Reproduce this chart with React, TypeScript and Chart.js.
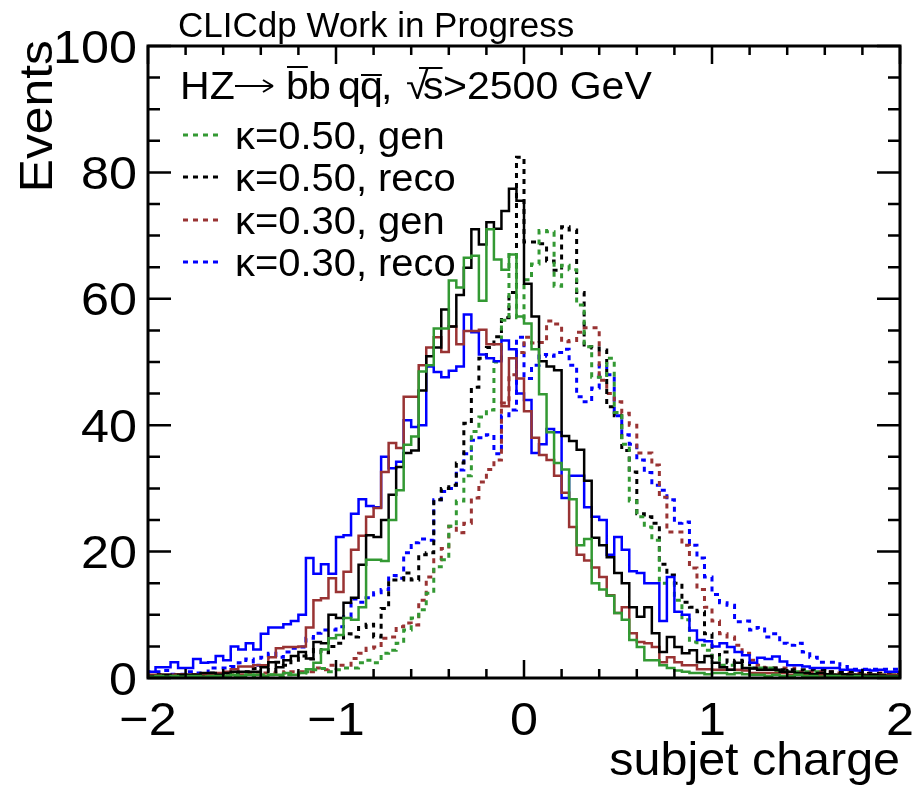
import { useEffect, useRef } from 'react';
import { Chart, registerables } from 'chart.js';

Chart.register(...registerables);

const X_MIN = -2;
const X_MAX = 2;
const BIN_WIDTH = 0.04;
const xTickValues = [-2, -1, 0, 1, 2];
const yTickValues = [0, 20, 40, 60, 80, 100];

// solid histograms (not in legend)
const greenSolid = [
  0.2, 0.2, 0.3, 0.2, 0.3, 0.2, 0.3, 0.3, 0.2, 0.3, 0.3, 0.3, 0.5, 0.3, 0.5, 0.5, 0.3, 0.5, 0.5, 0.8,
  0.5, 0.8, 1.4, 2.4, 4.5, 6.3, 6.8, 9.5, 9.2, 11.2, 18.7, 18.7, 18.5, 25, 29.7, 36.9, 38.2, 48.5, 49.5, 55.3,
  55.3, 62.9, 61.8, 66.5, 66.8, 59.7, 71, 66.2, 64.6, 67, 57.2, 56.1, 52, 44.9, 38.9, 34, 33, 28.3, 21, 22,
  15, 14, 13, 10.3, 9.2, 6, 4.9, 2.8, 2.8, 2, 1.6, 1.2, 1, 0.8, 0.8, 0.6, 0.8, 0.8, 0.6, 0.8,
  0.6, 0.5, 0.5, 0.3, 0.5, 0.3, 0.3, 0.5, 0.3, 0.3, 0.2, 0.3, 0.3, 0.2, 0.2, 0.3, 0.2, 0.2, 0.2, 0.2,
];
const blackSolid = [
  0.2, 0.3, 0.3, 0.5, 0.3, 0.5, 0.5, 0.5, 0.8, 0.8, 0.5, 0.8, 1, 1, 1, 1, 1.7, 2.5, 1.7, 2.8,
  3.5, 4.1, 3.1, 5.7, 5.5, 10, 9.5, 11.9, 12.7, 17.9, 22.6, 22.3, 25, 29, 33.4, 35.6, 36, 45.5, 50.9, 52.3,
  58.3, 55.6, 60.6, 64.9, 71, 68.6, 72.1, 71.1, 73.9, 77.4, 75.5, 62.4, 57.2, 50.1, 49.3, 48.7, 38.3, 37.5, 36.1, 31.2,
  22.2, 21, 19.1, 16.6, 15, 11.2, 9.7, 11.2, 7.1, 4.1, 6.5, 4.9, 3.9, 4.4, 2.5, 3.5, 2.4, 1.7, 1.3, 2.4,
  1.6, 1.5, 1.3, 1.3, 1.3, 1, 1, 0.8, 0.8, 0.6, 0.8, 0.6, 0.5, 0.6, 0.5, 0.5, 0.4, 0.5, 0.4, 0.3,
];
const brownSolid = [
  0.3, 0.5, 0.4, 0.5, 0.5, 0.6, 0.5, 0.5, 0.6, 0.6, 0.8, 1, 1.4, 1.8, 1.8, 2, 2, 3.3, 4.7, 4.9,
  4.9, 5, 8, 12.3, 12.6, 15.8, 13.6, 16.8, 20.3, 22.5, 25.5, 26.9, 32.6, 37.2, 36.4, 44.5, 44.5, 49.5, 52.3, 53.9,
  51.6, 55.6, 52.8, 54.9, 54.9, 55.1, 52.8, 52.8, 43, 50.6, 47.4, 42.2, 38, 35.3, 34.5, 32, 29.3, 23.9, 19.5, 18.6,
  17.5, 16, 13.1, 10.3, 11.2, 7.1, 5.7, 5.5, 4.9, 2.5, 3.3, 2.5, 2, 2, 1.4, 1.4, 1.3, 1.3, 1.3, 1.3,
  1.2, 0.8, 0.8, 0.8, 0.8, 0.8, 0.5, 0.5, 0.5, 0.5, 0.5, 0.5, 0.5, 0.5, 0.5, 0.5, 0.5, 0.5, 0.5, 0.5,
];
const blueSolid = [
  0.8, 1, 1.7, 1.7, 2.5, 1.6, 1.6, 3, 2.4, 2.5, 3.5, 2.8, 5, 4.5, 5.5, 4.5, 7, 8, 8, 8.5,
  9, 10, 19, 16.5, 18, 16.5, 22.3, 22.6, 26, 28.3, 27.2, 27, 35, 33.2, 34.2, 40.8, 39.7, 40, 49.3, 48.4,
  47.6, 48.6, 49.3, 57.5, 54.7, 51.2, 50.6, 50.1, 53.4, 52, 45, 44, 35.6, 37, 39.4, 38.9, 28.5, 32, 32, 27,
  25.5, 25, 19.5, 22.3, 20.3, 16.9, 16.6, 15, 15, 9, 16, 10.5, 10, 7.5, 6, 5.8, 5, 5.5, 4.9, 4.1,
  3.6, 2.4, 3.2, 3, 3.4, 2.6, 2, 2, 1.8, 1.6, 1.6, 1.6, 1.6, 1.3, 1.3, 1.2, 1.3, 1.2, 1.3, 1,
];

// dotted histograms (legend entries)
const greenDotted = [
  0.2, 0.2, 0.2, 0.3, 0.2, 0.2, 0.3, 0.2, 0.3, 0.3, 0.2, 0.3, 0.3, 0.3, 0.5, 0.3, 0.5, 0.5, 0.3, 0.5,
  0.5, 0.8, 1, 1.3, 1.5, 1, 1.3, 1.6, 1.6, 2.4, 2.8, 2.4, 3.9, 4.4, 5.5, 7.6, 9.5, 10.8, 13.4, 17.6,
  18.7, 24, 28, 32, 39, 41.3, 42.4, 50, 56.6, 67, 57, 63, 65.5, 70.8, 70.6, 62, 65.3, 64.6, 59, 52.4,
  47.6, 47.6, 50.6, 42, 37, 28, 25.5, 23.9, 21.8, 15, 15, 12.3, 9.2, 5.7, 5.2, 4.4, 3.2, 2, 2, 2,
  1.6, 1.6, 1.6, 1.6, 1, 1, 1, 1, 1, 1, 1, 0.5, 0.5, 0.5, 0.5, 0.5, 0.5, 0.5, 0.5, 0.5,
];
const blackDotted = [
  0.3, 0.3, 0.5, 0.3, 0.5, 0.3, 0.5, 0.5, 0.5, 0.8, 0.5, 0.8, 0.8, 1, 1, 1.5, 1.8, 1, 2.5, 2,
  2.8, 3.5, 3, 4.5, 4, 5, 5.5, 7, 6.5, 8, 8.5, 6.5, 11, 15.5, 15.5, 16.6, 15.5, 19.5, 19.8, 28.2,
  30, 30.5, 34, 40.3, 46, 50.6, 52.3, 54, 57, 61, 82.4, 69, 69, 68.7, 66, 64.5, 71.4, 70.9, 61, 52.4,
  52.2, 51.9, 42.9, 41.5, 36, 32.6, 26, 25.5, 24.5, 18, 16.3, 15, 12, 11.2, 10.5, 7, 3.3, 4.1, 2.4, 2.8,
  2.6, 1.6, 1.6, 1.6, 1.6, 1.3, 1.3, 1.3, 1.3, 1.3, 1.3, 1, 1, 1, 1, 1, 0.7, 0.7, 0.7, 0.7,
];
const brownDotted = [
  0.3, 0.3, 0.5, 0.3, 0.5, 0.5, 0.3, 0.5, 0.5, 0.5, 0.5, 0.3, 0.5, 0.5, 0.8, 0.5, 0.8, 0.8, 1, 0.8,
  1, 1, 1, 1.6, 1.3, 2, 2, 2, 3.1, 3.9, 4.7, 4.9, 6.3, 6.5, 8.1, 8.7, 8.4, 12.3, 16, 18.7,
  20.5, 24, 23, 24.5, 28.5, 31, 33, 34.5, 43.5, 48, 51.5, 53.9, 53, 53.1, 56.5, 56, 53.2, 53.4, 54.7, 55.4,
  55.4, 47.1, 45, 43.7, 41.9, 40, 35.6, 35.6, 33.7, 28.6, 23.1, 23.1, 21, 17.4, 14, 11.2, 9, 7, 6.5, 5.2,
  3.9, 2.8, 2, 1.6, 1.6, 1.6, 1.6, 1, 1, 1, 1, 1, 0.8, 0.8, 0.8, 0.8, 0.8, 0.8, 0.8, 0.8,
];
const blueDotted = [
  0.6, 1, 1, 1.2, 0.6, 0.6, 1, 0.8, 0.8, 1.6, 1.6, 1.6, 1.8, 2.4, 3, 2, 3.3, 3.9, 3.3, 4.1,
  4.7, 4.9, 6.3, 7.1, 7.6, 7.6, 8.1, 9.7, 12.5, 12, 12.7, 13.5, 14, 16.2, 15.8, 19.8, 21.4, 22, 21.8, 28.2,
  29.5, 30, 32.9, 35.5, 37.6, 38, 38.5, 35.5, 41.5, 42.4, 53.9, 47.4, 49.5, 51.2, 50.9, 51.5, 52, 49.5, 44.5, 43.7,
  45.9, 49.5, 48, 41.5, 38.5, 37, 34.5, 32.5, 30.5, 29.7, 28.2, 24.5, 24.7, 21, 19, 16, 13.2, 11.9, 11.5, 8.9,
  9, 7.6, 8, 6.5, 7, 5.5, 5.2, 5.5, 4.1, 3.3, 2.5, 2.5, 2.5, 1.8, 1.4, 1.4, 1.4, 1.4, 1.4, 1.4,
];

const legendLabels = ['\u03BA=0.50, gen', '\u03BA=0.50, reco', '\u03BA=0.30, gen', '\u03BA=0.30, reco'];

const GREEN = '#339933';
const BLACK = '#000000';
const BROWN = '#993333';
const BLUE = '#0000ff';
const FONT = '"Liberation Sans", Arial, Helvetica, sans-serif';
const DASH = [5, 5];

function toPoints(vals: number[]) {
  const pts = vals.map((v, i) => ({ x: X_MIN + i * BIN_WIDTH, y: v }));
  pts.push({ x: X_MIN + vals.length * BIN_WIDTH, y: vals[vals.length - 1] });
  return pts;
}

function fmt(v: number) {
  return v < 0 ? '\u2212' + Math.abs(v) : String(v);
}

function stretchText(ctx: any, t: string, x: number, y: number, align: string, sx: number) {
  ctx.save();
  ctx.translate(x, y);
  ctx.scale(sx, 1);
  ctx.textAlign = align;
  ctx.fillText(t, 0, 0);
  ctx.restore();
}

const framePlugin = {
  id: 'rootFrame',
  afterDatasetsDraw(chart: any) {
    const ctx = chart.ctx;
    const { left, right, top, bottom } = chart.chartArea;
    const xs = chart.scales.x;
    const ys = chart.scales.y;
    ctx.save();
    ctx.strokeStyle = '#000';
    ctx.lineWidth = 3;
    ctx.setLineDash([]);
    ctx.strokeRect(left, top, right - left, bottom - top);
    ctx.lineWidth = 2.5;
    ctx.beginPath();
    for (let k = 0; k <= 20; k++) {
      const v = X_MIN + k * 0.2;
      const px = xs.getPixelForValue(v);
      const major = k % 5 === 0;
      const len = major ? 18 : 9;
      ctx.moveTo(px, bottom);
      ctx.lineTo(px, bottom - len);
      ctx.moveTo(px, top);
      ctx.lineTo(px, top + len);
    }
    for (let k = 0; k <= 20; k++) {
      const v = k * 5;
      const py = ys.getPixelForValue(v);
      const major = k % 4 === 0;
      const len = major ? 23 : 12;
      ctx.moveTo(left, py);
      ctx.lineTo(left + len, py);
      ctx.moveTo(right, py);
      ctx.lineTo(right - len, py);
    }
    ctx.stroke();
    ctx.restore();
  },
  afterDraw(chart: any) {
    const ctx = chart.ctx;
    const xs = chart.scales.x;
    const ys = chart.scales.y;
    const { left, bottom } = chart.chartArea;
    ctx.save();
    ctx.fillStyle = '#000';
    ctx.strokeStyle = '#000';
    ctx.textBaseline = 'alphabetic';

    // tick labels
    ctx.font = `47px ${FONT}`;
    for (const v of xTickValues) {
      stretchText(ctx, fmt(v), xs.getPixelForValue(v), bottom + 57, 'center', 1.07);
    }
    for (const v of yTickValues) {
      stretchText(ctx, fmt(v), left - 11, ys.getPixelForValue(v) + 16.5, 'right', 1.07);
    }

    // top label
    ctx.font = `35px ${FONT}`;
    stretchText(ctx, 'CLICdp Work in Progress', 178, 37, 'left', 1.0);
    // x title
    ctx.font = `47px ${FONT}`;
    stretchText(ctx, 'subjet charge', 900, 775, 'right', 1.03);
    // y title
    ctx.save();
    ctx.translate(52, 40);
    ctx.rotate(-Math.PI / 2);
    ctx.scale(1.06, 1);
    ctx.textAlign = 'right';
    ctx.fillText('Events', 0, 0);
    ctx.restore();

    // legend header: HZ -> b̄b qq̄, √s>2500 GeV
    const base = 99;
    const sx = 1.08;
    ctx.font = `38px ${FONT}`;
    ctx.lineWidth = 2;
    const seg = (t: string, X: number, bar?: number, barStart?: number) => {
      stretchText(ctx, t, X, base, 'left', sx);
      if (bar !== undefined) {
        const w = ctx.measureText(t).width * sx;
        ctx.beginPath();
        ctx.moveTo(barStart !== undefined ? barStart : X + 1, base - bar);
        ctx.lineTo(X + w - 1, base - bar);
        ctx.stroke();
      }
    };
    seg('HZ', 180);
    ctx.beginPath();
    ctx.moveTo(235, base - 13);
    ctx.lineTo(272, base - 13);
    ctx.moveTo(273, base - 13);
    ctx.lineTo(263, base - 19);
    ctx.moveTo(273, base - 13);
    ctx.lineTo(263, base - 7);
    ctx.stroke();
    seg('b', 286, 32);
    seg('b', 308);
    seg('q', 338);
    seg('q', 360, 24);
    seg(',', 381);
    seg('\u221A', 406);
    seg('s', 423, 31, 419);
    seg('>2500 GeV', 443);

    // legend rows
    const colors = [GREEN, BLACK, BROWN, BLUE];
    const rowY = [135, 177, 220, 262];
    for (let i = 0; i < 4; i++) {
      ctx.strokeStyle = colors[i];
      ctx.lineWidth = 3;
      ctx.setLineDash(DASH);
      ctx.beginPath();
      ctx.moveTo(183, rowY[i]);
      ctx.lineTo(223, rowY[i]);
      ctx.stroke();
      ctx.setLineDash([]);
      ctx.fillStyle = '#000';
      ctx.font = `38px ${FONT}`;
      stretchText(ctx, legendLabels[i], 235, rowY[i] + 14, 'left', 1.05);
    }
    ctx.restore();
  },
};

export default function App() {
  const ref = useRef<HTMLCanvasElement>(null);
  useEffect(() => {
    if (!ref.current) return;
    const solid = (data: number[], color: string) => ({
      data: toPoints(data),
      borderColor: color,
      borderWidth: 2.5,
      stepped: 'after' as const,
      pointRadius: 0,
      fill: false,
    });
    const dotted = (data: number[], color: string) => ({
      data: toPoints(data),
      borderColor: color,
      borderWidth: 3,
      borderDash: DASH,
      stepped: 'after' as const,
      pointRadius: 0,
      fill: false,
    });
    const chart = new Chart(ref.current, {
      type: 'line',
      data: {
        datasets: [
          solid(greenSolid, GREEN),
          solid(blackSolid, BLACK),
          solid(brownSolid, BROWN),
          solid(blueSolid, BLUE),
          dotted(greenDotted, GREEN),
          dotted(blackDotted, BLACK),
          dotted(brownDotted, BROWN),
          dotted(blueDotted, BLUE),
        ] as any,
      },
      options: {
        responsive: false,
        animation: false,
        layout: { padding: { top: 46, right: 15, left: 0, bottom: 0 } },
        plugins: { legend: { display: false }, tooltip: { enabled: false } },
        scales: {
          x: {
            type: 'linear',
            min: X_MIN,
            max: X_MAX,
            afterFit: (s: any) => {
              s.height = 114;
            },
            afterBuildTicks: (s: any) => {
              s.ticks = xTickValues.map((v) => ({ value: v }));
            },
            grid: { display: false, drawTicks: false },
            border: { display: false },
            ticks: { display: false },
          },
          y: {
            min: 0,
            max: 100,
            afterFit: (s: any) => {
              s.width = 148;
            },
            afterBuildTicks: (s: any) => {
              s.ticks = yTickValues.map((v) => ({ value: v }));
            },
            grid: { display: false, drawTicks: false },
            border: { display: false },
            ticks: { display: false },
          },
        },
      },
      plugins: [framePlugin],
    });
    return () => chart.destroy();
  }, []);
  return (
    <div style={{ position: 'absolute', left: 0, top: 0, width: 915, height: 792, background: '#fff' }}>
      <canvas ref={ref} width={915} height={792} style={{ width: 915, height: 792 }} />
    </div>
  );
}
